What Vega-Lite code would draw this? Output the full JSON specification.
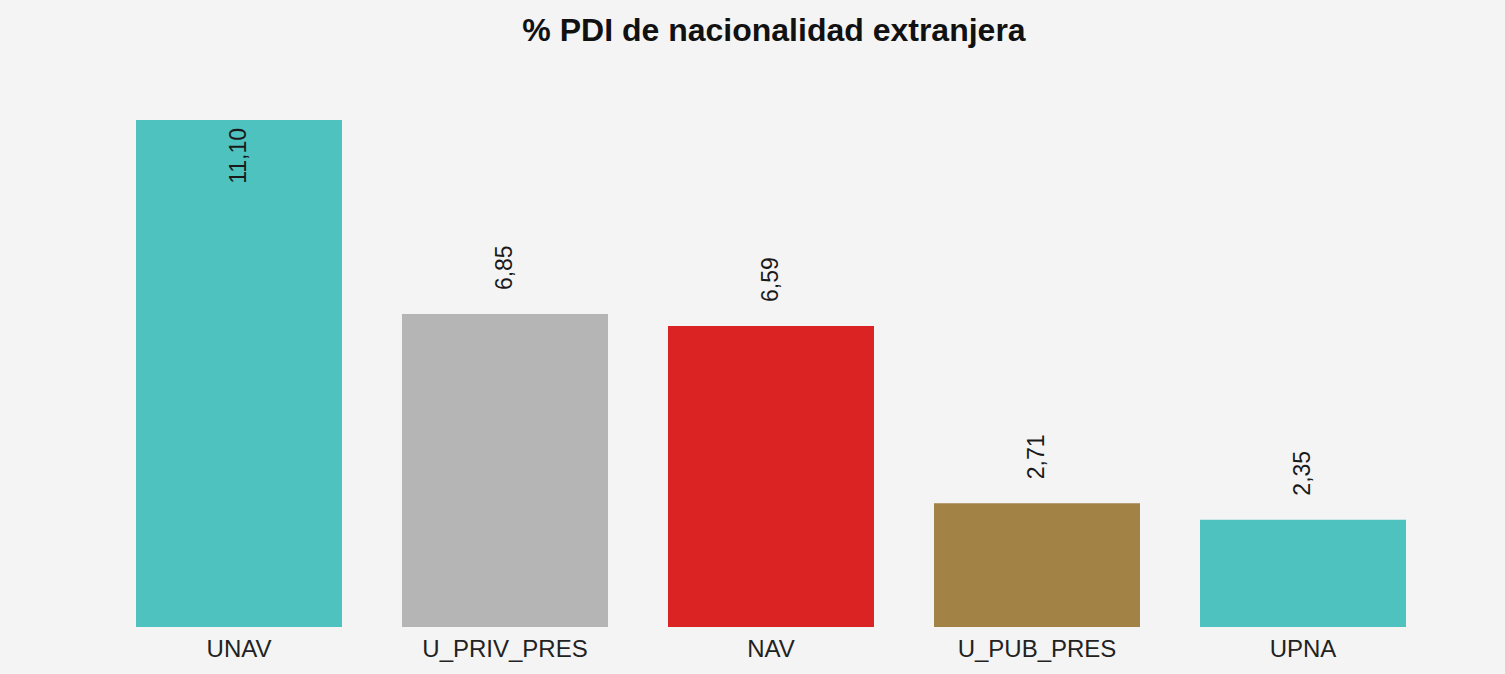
{
  "$schema": "https://vega.github.io/schema/vega-lite/v6.json",
  "width": 1330,
  "height": 507,
  "autosize": {"type": "none"},
  "padding": {"left": 106, "top": 120, "right": 69, "bottom": 47},
  "background": "#f4f4f4",
  "title": {
    "text": "% PDI de nacionalidad extranjera",
    "fontSize": 32,
    "fontWeight": "bold",
    "font": "Liberation Sans",
    "color": "#111111",
    "anchor": "middle",
    "offset": 72,
    "dx": 3
  },
  "config": {
    "view": {"stroke": null},
    "locale": {"number": {"decimal": ",", "thousands": ".", "grouping": [3], "currency": ["", " €"]}},
    "font": "Liberation Sans"
  },
  "data": {
    "values": [
      {"grupo": "UNAV", "valor": 11.10},
      {"grupo": "U_PRIV_PRES", "valor": 6.85},
      {"grupo": "NAV", "valor": 6.59},
      {"grupo": "U_PUB_PRES", "valor": 2.71},
      {"grupo": "UPNA", "valor": 2.35}
    ]
  },
  "encoding": {
    "x": {
      "field": "grupo",
      "type": "nominal",
      "sort": null,
      "scale": {"paddingInner": 0.2256, "paddingOuter": 0.1128},
      "axis": {
        "title": null,
        "labelAngle": 0,
        "ticks": false,
        "domain": false,
        "labelFontSize": 24,
        "labelColor": "#222222",
        "labelPadding": 10,
        "labelFont": "Liberation Sans"
      }
    },
    "y": {
      "field": "valor",
      "type": "quantitative",
      "scale": {"domain": [0, 11.1], "nice": false},
      "axis": null
    }
  },
  "layer": [
    {
      "mark": {"type": "bar"},
      "encoding": {
        "color": {
          "field": "grupo",
          "type": "nominal",
          "scale": {
            "domain": ["UNAV", "U_PRIV_PRES", "NAV", "U_PUB_PRES", "UPNA"],
            "range": ["#4ec2be", "#b5b5b5", "#dc2323", "#a38245", "#4ec2be"]
          },
          "legend": null
        }
      }
    },
    {
      "transform": [{"filter": "datum.valor < 10"}],
      "mark": {"type": "text", "angle": 270, "align": "left", "baseline": "middle", "dx": 24, "fontSize": 23, "color": "#1a1a1a", "font": "Liberation Sans"},
      "encoding": {"text": {"field": "valor", "type": "quantitative", "format": ".2f"}}
    },
    {
      "transform": [{"filter": "datum.valor >= 10"}],
      "mark": {"type": "text", "angle": 270, "align": "right", "baseline": "middle", "dx": -8, "fontSize": 23, "color": "#1a1a1a", "font": "Liberation Sans"},
      "encoding": {"text": {"field": "valor", "type": "quantitative", "format": ".2f"}}
    }
  ]
}
